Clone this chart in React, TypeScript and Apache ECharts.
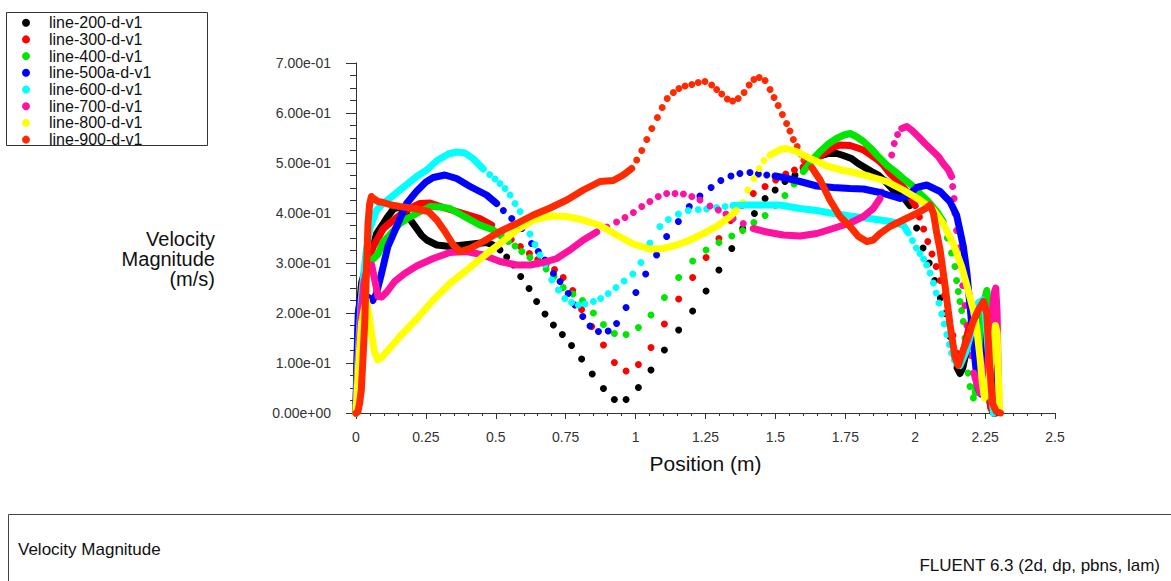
import React, { useEffect, useRef } from "react";
import * as echarts from "echarts";

// ---------- names & colours ----------
const seriesNames = [
  "line-200-d-v1",
  "line-300-d-v1",
  "line-400-d-v1",
  "line-500a-d-v1",
  "line-600-d-v1",
  "line-700-d-v1",
  "line-800-d-v1",
  "line-900-d-v1",
];
const seriesColors = ["#000000", "#ff0000", "#00e600", "#0000ff", "#00ffff", "#ff12a0", "#ffff00", "#ff2a00"];

// ---------- line-200 (black) ----------
const s200DenseA = [[0.0,0.0],[0.004,0.1],[0.01,0.2],[0.02,0.26],[0.04,0.3],[0.074,0.359],[0.098,0.379],[0.114,0.393],[0.134,0.408],[0.152,0.412],[0.181,0.399],[0.2,0.382],[0.217,0.369],[0.235,0.355],[0.253,0.346],[0.289,0.336],[0.336,0.333],[0.384,0.336],[0.432,0.339],[0.467,0.341],[0.49,0.336]];
const s200Dots1 = [[0.515,0.326],[0.539,0.312],[0.563,0.296],[0.589,0.273],[0.619,0.249],[0.646,0.223],[0.676,0.198],[0.706,0.176],[0.738,0.157],[0.771,0.135],[0.807,0.108],[0.845,0.078],[0.885,0.049],[0.924,0.027],[0.966,0.027],[1.01,0.051],[1.055,0.086],[1.103,0.126],[1.154,0.166],[1.204,0.204],[1.252,0.244],[1.298,0.286],[1.344,0.329],[1.383,0.369],[1.425,0.399],[1.463,0.429],[1.499,0.446],[1.534,0.463],[1.57,0.476]];
const s200DenseB = [[1.6,0.49],[1.63,0.505],[1.66,0.514],[1.69,0.519],[1.72,0.519],[1.743,0.515],[1.772,0.509],[1.796,0.499],[1.82,0.491],[1.844,0.483],[1.868,0.476],[1.895,0.462],[1.922,0.446],[1.952,0.436],[1.981,0.415]];
const s200Dots2 = [[2.005,0.37],[2.028,0.33],[2.05,0.3],[2.07,0.265],[2.09,0.23],[2.107,0.199],[2.124,0.153],[2.142,0.113]];
const s200DenseC = [[2.15,0.09],[2.16,0.079],[2.17,0.09],[2.185,0.13],[2.2,0.17],[2.22,0.2],[2.235,0.21],[2.248,0.16],[2.258,0.08],[2.268,0.02],[2.28,0.0]];

// ---------- line-300 (red) ----------
const s300DenseA = [[0.0,0.0],[0.005,0.08],[0.012,0.17],[0.02,0.24],[0.035,0.29],[0.062,0.333],[0.098,0.369],[0.134,0.386],[0.181,0.406],[0.229,0.419],[0.265,0.42],[0.324,0.409],[0.384,0.399],[0.443,0.389],[0.485,0.376]];
const s300Dots1 = [[0.52,0.362],[0.555,0.347],[0.588,0.333],[0.62,0.319],[0.65,0.307],[0.68,0.297],[0.71,0.287],[0.741,0.271],[0.775,0.245],[0.807,0.207],[0.843,0.173],[0.885,0.136],[0.924,0.101],[0.966,0.084],[1.01,0.097],[1.055,0.131],[1.103,0.178],[1.154,0.228],[1.204,0.271],[1.252,0.311],[1.298,0.349],[1.34,0.385],[1.38,0.415],[1.421,0.439],[1.463,0.453],[1.501,0.466],[1.537,0.478],[1.568,0.486]];
const s300DenseB = [[1.6,0.492],[1.64,0.507],[1.68,0.522],[1.71,0.532],[1.73,0.536],[1.767,0.535],[1.789,0.531],[1.815,0.526],[1.838,0.517],[1.862,0.508],[1.886,0.496],[1.91,0.479],[1.94,0.463],[1.97,0.443],[2.0,0.415]];
const s300Dots2 = [[2.015,0.392],[2.03,0.368],[2.045,0.343],[2.06,0.318],[2.075,0.293],[2.09,0.265],[2.105,0.235],[2.12,0.195],[2.135,0.155],[2.148,0.12]];
const s300DenseC = [[2.16,0.1],[2.175,0.13],[2.19,0.165],[2.21,0.2],[2.228,0.22],[2.24,0.215],[2.25,0.15],[2.26,0.07],[2.27,0.01],[2.28,0.0]];

// ---------- line-400 (green) ----------
const s400DenseA = [[0.0,0.0],[0.005,0.09],[0.012,0.18],[0.025,0.25],[0.04,0.285],[0.056,0.305],[0.079,0.318],[0.098,0.343],[0.114,0.352],[0.157,0.379],[0.186,0.39],[0.217,0.399],[0.265,0.413],[0.3,0.412],[0.336,0.409],[0.384,0.394],[0.443,0.376],[0.491,0.366],[0.521,0.353]];
const s400Dots1 = [[0.545,0.343],[0.569,0.334],[0.593,0.323],[0.622,0.311],[0.65,0.3],[0.68,0.288],[0.708,0.273],[0.741,0.251],[0.776,0.238],[0.81,0.225],[0.849,0.2],[0.885,0.177],[0.924,0.159],[0.966,0.157],[1.01,0.171],[1.055,0.196],[1.103,0.231],[1.154,0.271],[1.204,0.304],[1.252,0.326],[1.298,0.341],[1.344,0.354],[1.383,0.365],[1.423,0.381],[1.463,0.395],[1.5,0.415],[1.534,0.435],[1.567,0.458]];
const s400DenseB = [[1.6,0.483],[1.63,0.505],[1.66,0.523],[1.689,0.538],[1.719,0.549],[1.745,0.556],[1.767,0.559],[1.789,0.553],[1.815,0.543],[1.838,0.531],[1.868,0.513],[1.898,0.496],[1.928,0.483],[1.957,0.469],[1.987,0.456],[2.017,0.439],[2.047,0.423],[2.077,0.403],[2.1,0.383]];
const s400Dots2 = [[2.115,0.35],[2.13,0.32],[2.142,0.293],[2.148,0.265],[2.154,0.243],[2.16,0.223],[2.166,0.205],[2.172,0.183],[2.178,0.15],[2.183,0.115],[2.189,0.08],[2.196,0.053],[2.208,0.03]];
const s400DenseC = [[2.215,0.04],[2.225,0.08],[2.235,0.15],[2.245,0.22],[2.256,0.245],[2.264,0.2],[2.27,0.1],[2.278,0.02],[2.285,0.0]];

// ---------- line-500a (blue) ----------
const s500DenseA = [[0.0,0.02],[0.004,0.12],[0.008,0.2],[0.015,0.228],[0.035,0.235],[0.06,0.225],[0.073,0.239],[0.09,0.276],[0.114,0.333],[0.15,0.379],[0.181,0.419],[0.216,0.443],[0.25,0.462],[0.276,0.471],[0.318,0.476],[0.36,0.469],[0.408,0.453],[0.467,0.436],[0.503,0.419]];
const s500Dots1 = [[0.527,0.405],[0.557,0.389],[0.593,0.369],[0.628,0.339],[0.652,0.323],[0.676,0.306],[0.706,0.279],[0.73,0.263],[0.759,0.239],[0.783,0.216],[0.811,0.193],[0.837,0.174],[0.867,0.163],[0.902,0.164],[0.932,0.179],[0.966,0.211],[1.001,0.241],[1.036,0.278],[1.075,0.316],[1.111,0.353],[1.153,0.383],[1.192,0.413],[1.23,0.434],[1.27,0.451],[1.305,0.465],[1.341,0.474],[1.373,0.479],[1.409,0.481],[1.439,0.478],[1.469,0.476]];
const s500DenseB = [[1.499,0.474],[1.528,0.471],[1.588,0.463],[1.648,0.454],[1.707,0.451],[1.767,0.449],[1.815,0.448],[1.874,0.441],[1.946,0.429],[1.975,0.435],[2.005,0.451],[2.041,0.456],[2.089,0.443],[2.124,0.423],[2.148,0.396],[2.16,0.365],[2.172,0.333],[2.185,0.28],[2.195,0.22],[2.205,0.16],[2.215,0.1],[2.225,0.05],[2.235,0.038],[2.245,0.06],[2.255,0.15],[2.263,0.2],[2.27,0.15],[2.28,0.05],[2.29,0.0]];

// ---------- line-600 (cyan) ----------
const s600DenseA = [[0.0,0.0],[0.005,0.08],[0.012,0.16],[0.019,0.226],[0.028,0.28],[0.037,0.326],[0.05,0.37],[0.074,0.406],[0.098,0.419],[0.157,0.446],[0.217,0.473],[0.253,0.486],[0.29,0.505],[0.33,0.518],[0.36,0.522],[0.39,0.52],[0.42,0.508],[0.455,0.488]];
const s600Dots1 = [[0.478,0.477],[0.497,0.468],[0.515,0.459],[0.533,0.449],[0.551,0.436],[0.569,0.419],[0.587,0.403],[0.604,0.378],[0.622,0.358],[0.64,0.337],[0.658,0.316],[0.676,0.297],[0.7,0.266],[0.724,0.246],[0.747,0.229],[0.771,0.221],[0.795,0.216],[0.819,0.218],[0.849,0.223],[0.875,0.229],[0.902,0.239],[0.93,0.251],[0.959,0.264],[0.99,0.278],[1.019,0.301],[1.051,0.34],[1.087,0.373],[1.117,0.387],[1.153,0.398],[1.188,0.405],[1.224,0.407],[1.254,0.408],[1.29,0.411],[1.32,0.413]];
const s600DenseB = [[1.349,0.415],[1.4,0.416],[1.45,0.416],[1.516,0.416],[1.588,0.409],[1.648,0.405],[1.707,0.399],[1.767,0.394],[1.838,0.389],[1.91,0.383],[1.957,0.376],[1.975,0.36]];
const s600Dots2 = [[1.99,0.345],[2.004,0.33],[2.017,0.319],[2.03,0.308],[2.041,0.296],[2.053,0.28],[2.065,0.26],[2.075,0.24],[2.085,0.22],[2.095,0.198],[2.104,0.178],[2.113,0.157],[2.122,0.137],[2.13,0.12],[2.14,0.106],[2.148,0.097]];
const s600DenseC = [[2.16,0.095],[2.18,0.12],[2.2,0.16],[2.225,0.22],[2.24,0.226],[2.25,0.2],[2.262,0.12],[2.272,0.04],[2.28,0.0]];

// ---------- line-700 (pink) ----------
const s700DenseA = [[0.0,0.0],[0.004,0.05],[0.01,0.12],[0.018,0.2],[0.028,0.26],[0.04,0.29],[0.056,0.296],[0.067,0.266],[0.079,0.233],[0.092,0.232],[0.11,0.242],[0.138,0.263],[0.174,0.279],[0.217,0.294],[0.276,0.309],[0.336,0.321],[0.396,0.323],[0.455,0.316],[0.515,0.303],[0.575,0.296],[0.622,0.296],[0.67,0.301],[0.718,0.309],[0.765,0.326],[0.813,0.346],[0.861,0.362]];
const s700Dots1 = [[0.897,0.372],[0.932,0.382],[0.962,0.391],[0.992,0.401],[1.022,0.413],[1.051,0.423],[1.081,0.433],[1.111,0.439],[1.141,0.439],[1.171,0.438],[1.201,0.433],[1.23,0.426],[1.266,0.414],[1.296,0.406],[1.323,0.398],[1.349,0.389],[1.385,0.379]];
const s700DenseB = [[1.421,0.369],[1.469,0.362],[1.528,0.356],[1.588,0.354],[1.648,0.359],[1.695,0.367],[1.767,0.38],[1.815,0.393],[1.85,0.409],[1.874,0.429]];
const s700Dots2 = [[1.88,0.442],[1.893,0.465],[1.906,0.489],[1.916,0.516],[1.925,0.539],[1.937,0.557]];
const s700DenseC = [[1.952,0.569],[1.97,0.573],[1.987,0.566],[2.011,0.553],[2.035,0.539],[2.059,0.526],[2.083,0.513],[2.1,0.499],[2.119,0.486],[2.13,0.473]];
const s700Dots3 = [[2.134,0.453],[2.139,0.429],[2.142,0.399],[2.148,0.365],[2.155,0.33],[2.162,0.295],[2.17,0.255],[2.178,0.215],[2.185,0.175],[2.192,0.14],[2.2,0.115]];
const s700DenseD = [[2.21,0.08],[2.22,0.06],[2.232,0.04],[2.245,0.045],[2.26,0.1],[2.272,0.18],[2.282,0.24],[2.288,0.25],[2.293,0.2],[2.296,0.1],[2.299,0.02]];

// ---------- line-800 (yellow) ----------
const s800DenseA = [[0.0,0.0],[0.005,0.05],[0.012,0.12],[0.02,0.18],[0.03,0.21],[0.037,0.226],[0.045,0.2],[0.055,0.16],[0.065,0.125],[0.077,0.106],[0.09,0.11],[0.126,0.133],[0.157,0.153],[0.217,0.188],[0.276,0.226],[0.336,0.259],[0.396,0.286],[0.455,0.313],[0.515,0.339],[0.575,0.366],[0.634,0.386],[0.694,0.394],[0.754,0.393],[0.813,0.386],[0.873,0.375],[0.932,0.356],[0.992,0.338],[1.051,0.328],[1.099,0.329],[1.147,0.336],[1.195,0.346],[1.242,0.359],[1.29,0.373],[1.338,0.393],[1.36,0.405]];
const s800Dots1 = [[1.383,0.421],[1.401,0.446],[1.423,0.469],[1.442,0.489],[1.459,0.505]];
const s800DenseB = [[1.481,0.516],[1.516,0.527],[1.54,0.529],[1.576,0.523],[1.624,0.509],[1.684,0.494],[1.743,0.485],[1.767,0.483],[1.838,0.473],[1.898,0.463],[1.957,0.446],[2.017,0.426],[2.065,0.406],[2.1,0.379],[2.136,0.339],[2.166,0.293],[2.189,0.246],[2.208,0.206],[2.22,0.17],[2.232,0.11],[2.24,0.06],[2.248,0.03],[2.26,0.05],[2.275,0.12],[2.287,0.175],[2.293,0.16],[2.297,0.08],[2.302,0.01]];

// ---------- line-900 (orange red) ----------
const s900DenseA = [[0.0,0.0],[0.007,0.003],[0.013,0.02],[0.019,0.046],[0.025,0.11],[0.031,0.179],[0.037,0.279],[0.043,0.379],[0.049,0.419],[0.055,0.433],[0.065,0.428],[0.079,0.423],[0.098,0.421],[0.126,0.416],[0.157,0.413],[0.21,0.409],[0.259,0.403],[0.289,0.386],[0.318,0.363],[0.348,0.336],[0.372,0.323],[0.408,0.329],[0.455,0.343],[0.515,0.363],[0.575,0.379],[0.634,0.396],[0.694,0.41],[0.754,0.426],[0.813,0.446],[0.873,0.463],[0.92,0.465],[0.956,0.476],[0.986,0.489]];
const s900Dots1 = [[1.004,0.506],[1.022,0.525],[1.04,0.547],[1.058,0.569],[1.078,0.591],[1.095,0.611],[1.113,0.629],[1.135,0.641],[1.155,0.649],[1.177,0.654],[1.201,0.657],[1.224,0.661],[1.248,0.663],[1.272,0.656],[1.29,0.647],[1.308,0.638],[1.328,0.628],[1.347,0.624],[1.367,0.629],[1.388,0.641],[1.406,0.656],[1.423,0.667],[1.442,0.671],[1.463,0.665],[1.481,0.647],[1.495,0.631],[1.51,0.615],[1.525,0.597],[1.54,0.579],[1.552,0.564],[1.564,0.547],[1.578,0.533],[1.59,0.518],[1.602,0.505],[1.614,0.496]];
const s900DenseB = [[1.63,0.491],[1.66,0.466],[1.695,0.426],[1.731,0.393],[1.767,0.373],[1.797,0.353],[1.827,0.343],[1.85,0.346],[1.874,0.359],[1.91,0.373],[1.957,0.386],[2.005,0.399],[2.04,0.41],[2.053,0.416],[2.065,0.4],[2.077,0.36],[2.089,0.326],[2.107,0.253],[2.124,0.179],[2.142,0.113],[2.154,0.095],[2.172,0.126],[2.189,0.15],[2.205,0.18],[2.225,0.205],[2.244,0.223],[2.256,0.2],[2.262,0.14],[2.268,0.08],[2.276,0.02],[2.29,0.003],[2.305,0.0]];

// dense stretches (drawn as touching markers) and separate markers, per series
const denseParts = [
  [s200DenseA, s200DenseB, s200DenseC],
  [s300DenseA, s300DenseB, s300DenseC],
  [s400DenseA, s400DenseB, s400DenseC],
  [s500DenseA, s500DenseB],
  [s600DenseA, s600DenseB, s600DenseC],
  [s700DenseA, s700DenseB, s700DenseC, s700DenseD],
  [s800DenseA, s800DenseB],
  [s900DenseA, s900DenseB],
];
const dotParts = [
  [s200Dots1, s200Dots2],
  [s300Dots1, s300Dots2],
  [s400Dots1, s400Dots2],
  [s500Dots1],
  [s600Dots1, s600Dots2],
  [s700Dots1, s700Dots2, s700Dots3],
  [s800Dots1],
  [s900Dots1],
];

const FONT = "'Liberation Sans', Arial, sans-serif";

function expLabel(v: number): string {
  const s = Number(v).toExponential(2);
  return s.replace(/e([+-])(\d)$/, "e$10$2");
}

export default function App() {
  const ref = useRef<HTMLDivElement | null>(null);
  useEffect(() => {
    if (!ref.current) return;
    const chart = echarts.init(ref.current, null, { renderer: "svg" });
    const series: any[] = [];
    seriesNames.forEach((name, i) => {
      const color = seriesColors[i];
      denseParts[i].forEach((part) => {
        series.push({
          type: "line",
          name,
          data: part,
          symbol: "none",
          showSymbol: false,
          clip: false,
          silent: true,
          itemStyle: { color },
          lineStyle: { color, width: 7, cap: "round", join: "round" },
          emphasis: { disabled: true },
        });
      });
      dotParts[i].forEach((part) => {
        series.push({
          type: "scatter",
          name,
          data: part,
          symbol: "circle",
          symbolSize: 7,
          clip: false,
          silent: true,
          itemStyle: { color, opacity: 1 },
          emphasis: { disabled: true },
        });
      });
    });

    chart.setOption({
      animation: false,
      backgroundColor: "#ffffff",
      textStyle: { fontFamily: FONT },
      legend: {
        data: seriesNames.map((n, i) => ({ name: n, icon: "circle", itemStyle: { color: seriesColors[i] } })),
        orient: "vertical",
        left: 22,
        top: 14.4,
        padding: 0,
        itemWidth: 36,
        itemHeight: 8,
        itemGap: 0.1,
        selectedMode: false,
        textStyle: { fontFamily: FONT, fontSize: 16, color: "#111111", lineHeight: 16.6 },
      },
      grid: { left: 356, right: 116, top: 63, bottom: 168, containLabel: false },
      xAxis: {
        type: "value",
        min: 0,
        max: 2.5,
        interval: 0.25,
        name: "Position (m)",
        nameLocation: "middle",
        nameGap: 40,
        nameTextStyle: { fontFamily: FONT, fontSize: 21, color: "#111111" },
        axisLine: { show: true, lineStyle: { color: "#333333", width: 1 } },
        axisTick: { show: true, length: 6, lineStyle: { color: "#333333" } },
        minorTick: { show: true, splitNumber: 5, length: 3, lineStyle: { color: "#333333" } },
        splitLine: { show: false },
        axisLabel: { fontFamily: FONT, fontSize: 14, color: "#333333", margin: 17 },
      },
      yAxis: {
        type: "value",
        min: 0,
        max: 0.7,
        interval: 0.1,
        axisLine: { show: true, lineStyle: { color: "#333333", width: 1 } },
        axisTick: { show: true, length: 10, lineStyle: { color: "#333333" } },
        minorTick: { show: true, splitNumber: 4, length: 6, lineStyle: { color: "#333333" } },
        splitLine: { show: false },
        axisLabel: { fontFamily: FONT, fontSize: 14, color: "#333333", margin: 25, formatter: expLabel },
      },
      graphic: [
        {
          type: "rect",
          shape: { x: 6.5, y: 12.5, width: 201, height: 133 },
          style: { fill: "none", stroke: "#333333", lineWidth: 1 },
          z: -1,
          silent: true,
        },
        {
          type: "text",
          x: 215,
          y: 258.5,
          style: {
            text: "Velocity\nMagnitude\n(m/s)",
            align: "right",
            verticalAlign: "middle",
            fontFamily: FONT,
            fontSize: 20,
            lineHeight: 20,
            fill: "#111111",
          },
          silent: true,
        },
        {
          type: "rect",
          shape: { x: 8.5, y: 514.5, width: 1180, height: 80 },
          style: { fill: "none", stroke: "#444444", lineWidth: 1 },
          silent: true,
        },
        {
          type: "text",
          x: 18,
          y: 549,
          style: { text: "Velocity Magnitude", align: "left", verticalAlign: "middle", fontFamily: FONT, fontSize: 17, fill: "#111111" },
          silent: true,
        },
        {
          type: "text",
          x: 1160,
          y: 565,
          style: { text: "FLUENT 6.3 (2d, dp, pbns, lam)", align: "right", verticalAlign: "middle", fontFamily: FONT, fontSize: 17, fill: "#111111" },
          silent: true,
        },
      ],
      series,
    });
    return () => chart.dispose();
  }, []);
  return <div ref={ref} style={{ position: "fixed", left: 0, top: 0, width: 1171, height: 581 }} />;
}
